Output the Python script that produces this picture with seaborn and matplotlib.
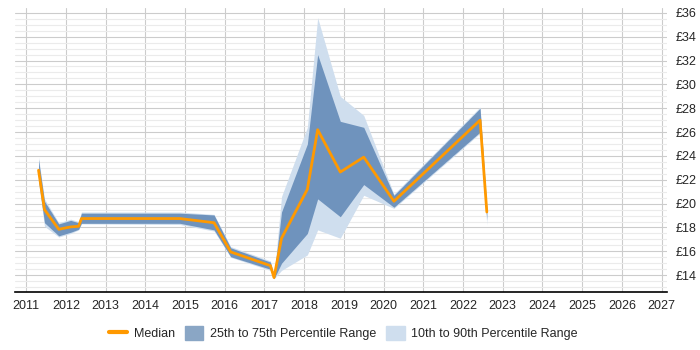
import matplotlib
matplotlib.use("Agg")
import matplotlib.pyplot as plt
import seaborn as sns
import pandas as pd
from matplotlib.lines import Line2D
from matplotlib.patches import Patch
from matplotlib.ticker import MultipleLocator, FuncFormatter

# Datos
years = [2011.31, 2011.46, 2011.82, 2012.12, 2012.32, 2012.39, 2014.87, 2015.73,
         2016.15, 2017.15, 2017.24, 2017.43, 2018.08, 2018.34, 2018.91, 2019.50,
         2020.26, 2022.43, 2022.60]
median = [22.8, 19.5, 17.85, 18.05, 18.1, 18.75, 18.75, 18.4,
          15.95, 14.8, 13.8, 17.1, 21.2, 26.2, 22.65, 23.9,
          20.2, 27.0, 19.3]
p25 = [22.0, 18.4, 17.3, 17.6, 17.85, 18.35, 18.35, 17.8,
       15.55, 14.5, 13.7, 15.0, 17.5, 20.4, 18.9, 21.6,
       19.7, 26.0, 18.6]
p75 = [23.7, 20.2, 18.3, 18.6, 18.4, 19.2, 19.2, 19.05,
       16.3, 15.1, 13.9, 19.3, 25.0, 32.5, 26.9, 26.4,
       20.7, 28.0, 19.6]
p10 = [21.8, 18.1, 17.2, 17.5, 17.8, 18.3, 18.25, 17.7,
       15.5, 14.4, 13.7, 14.4, 15.7, 17.8, 17.1, 20.7,
       19.6, 25.9, 18.2]
p90 = [23.9, 20.4, 18.4, 18.7, 18.5, 19.3, 19.3, 19.1,
       16.4, 15.2, 13.9, 20.6, 26.4, 35.6, 29.0, 27.4,
       20.8, 28.1, 19.7]

df = pd.DataFrame({"Año": years, "Mediana": median, "p25": p25, "p75": p75,
                   "p10": p10, "p90": p90})

orange = "#ff9900"
dark = "#6f93bd"
light = "#cfdeee"

sns.set_style("white")
plt.rcParams["font.family"] = ["Liberation Sans", "DejaVu Sans"]

fig = plt.figure(figsize=(7, 3.5), dpi=100)
ax = fig.add_axes([0.021, 0.166, 0.932, 0.811])

ax.fill_between(df["Año"], df["p10"], df["p90"], color=light, lw=0, zorder=2)
ax.fill_between(df["Año"], df["p25"], df["p75"], color=dark, lw=0, zorder=3)
sns.lineplot(data=df, x="Año", y="Mediana", color=orange, lw=2, ax=ax, zorder=4)

ax.set_xlim(2010.71, 2027.14)
ax.set_ylim(12.6, 36.4)
ax.xaxis.set_major_locator(MultipleLocator(1))
ax.yaxis.set_minor_locator(MultipleLocator(0.5))
ax.set_yticks(range(14, 37, 2))
ax.yaxis.set_major_formatter(FuncFormatter(lambda v, p: f"£{v:.0f}"))
ax.yaxis.tick_right()

ax.grid(which="major", axis="both", color="#cccccc", lw=0.8, zorder=0)
ax.grid(which="minor", axis="y", color="#ebebeb", lw=0.8, zorder=0)
ax.set_axisbelow(True)

for s in ["top", "left", "right"]:
    ax.spines[s].set_visible(False)
ax.spines["bottom"].set_color("black")
ax.spines["bottom"].set_linewidth(1.2)

ax.tick_params(axis="x", which="major", length=4, width=0.8, color="black",
               labelsize=9, pad=2)
ax.tick_params(axis="y", which="both", length=0, labelsize=9, pad=6)
ax.set_xlabel("")
ax.set_ylabel("")

handles = [Line2D([0], [0], color=orange, lw=3),
           Patch(color="#8aa6c5"),
           Patch(color=light)]
labels = ["Median", "25th to 75th Percentile Range", "10th to 90th Percentile Range"]
fig.legend(handles, labels, loc="center", bbox_to_anchor=(0.49, 0.048), ncol=3,
           frameon=False, fontsize=9, handlelength=1.5, handleheight=1.4,
           columnspacing=0.8, handletextpad=0.5)

fig.savefig("out.png", dpi=100)
